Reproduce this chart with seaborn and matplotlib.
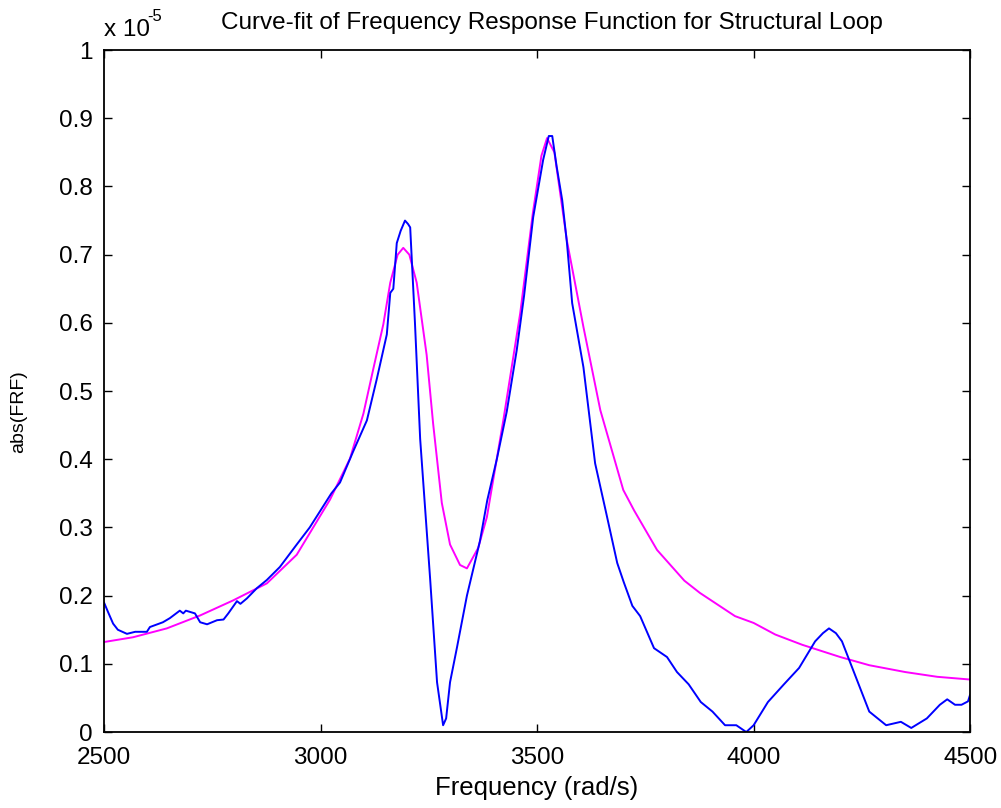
import matplotlib
matplotlib.use("Agg")
import matplotlib.pyplot as plt
import numpy as np
import seaborn as sns

# measured FRF magnitude (units of 1e-5)
freq_meas = [2500, 2510, 2521, 2532, 2553, 2572, 2599, 2606, 2636, 2652, 2675, 2683, 2689,
             2710, 2722, 2738, 2761, 2776, 2787, 2807, 2815, 2830, 2853, 2876, 2906, 2945,
             2975, 3006, 3025, 3045, 3075, 3107, 3130, 3153, 3161, 3168, 3176, 3185, 3195,
             3202, 3207, 3218, 3230, 3253, 3269, 3283, 3290, 3299, 3315, 3338, 3368, 3385,
             3407, 3430, 3453, 3470, 3491, 3514, 3527, 3535, 3545, 3558, 3569, 3581, 3607,
             3634, 3660, 3685, 3700, 3720, 3738, 3770, 3800, 3823, 3850, 3878, 3905, 3934,
             3960, 3983, 4000, 4033, 4070, 4105, 4142, 4160, 4174, 4190, 4204, 4237, 4267,
             4306, 4340, 4364, 4400, 4430, 4447, 4465, 4480, 4495, 4500]
mag_meas = [0.19, 0.175, 0.159, 0.15, 0.144, 0.147, 0.147, 0.154, 0.161, 0.167, 0.178, 0.174, 0.178,
            0.174, 0.161, 0.158, 0.164, 0.165, 0.174, 0.192, 0.188, 0.196, 0.211, 0.223, 0.242, 0.275,
            0.30, 0.331, 0.35, 0.366, 0.411, 0.457, 0.518, 0.583, 0.644, 0.65, 0.717, 0.735, 0.75,
            0.745, 0.74, 0.6, 0.43, 0.225, 0.073, 0.01, 0.02, 0.073, 0.124, 0.2, 0.28, 0.34,
            0.40, 0.47, 0.56, 0.64, 0.755, 0.839, 0.874, 0.874, 0.83, 0.78, 0.717, 0.629, 0.535,
            0.394, 0.32, 0.248, 0.22, 0.185, 0.17, 0.123, 0.11, 0.088, 0.07, 0.044, 0.03, 0.01,
            0.01, 0.0, 0.01, 0.044, 0.07, 0.094, 0.133, 0.145, 0.152, 0.145, 0.133, 0.079, 0.03,
            0.01, 0.015, 0.006, 0.02, 0.04, 0.048, 0.04, 0.04, 0.045, 0.055]

# curve-fit
freq_fit = [2500, 2567, 2645, 2722, 2798, 2876, 2945, 3022, 3068, 3099, 3122, 3145, 3161, 3178,
            3191, 3205, 3222, 3245, 3260, 3280, 3299, 3322, 3338, 3364, 3384, 3422, 3461, 3490,
            3510, 3523, 3540, 3569, 3607, 3646, 3699, 3724, 3777, 3840, 3876, 3957, 4000, 4050,
            4112, 4200, 4267, 4350, 4424, 4500]
mag_fit = [0.132, 0.139, 0.152, 0.171, 0.193, 0.218, 0.26, 0.341, 0.401, 0.467, 0.533, 0.598, 0.659, 0.70,
           0.71, 0.70, 0.659, 0.553, 0.452, 0.336, 0.275, 0.245, 0.24, 0.27, 0.315, 0.457, 0.614, 0.76,
           0.845, 0.871, 0.85, 0.72, 0.594, 0.472, 0.355, 0.325, 0.267, 0.222, 0.204, 0.170, 0.16, 0.143,
           0.128, 0.11, 0.098, 0.088, 0.081, 0.077]

sns.set_style("ticks")
plt.rcParams['font.family'] = ['Liberation Sans', 'DejaVu Sans']
plt.rcParams['text.color'] = 'black'
plt.rcParams['axes.labelcolor'] = 'black'

fig = plt.figure(figsize=(10.01, 8.08), dpi=100)
ax = fig.add_axes([0.1039, 0.094, 0.8653, 0.844])

sns.lineplot(x=freq_fit, y=mag_fit, ax=ax, color=(1, 0, 1), linewidth=1.4, sort=False)
sns.lineplot(x=freq_meas, y=mag_meas, ax=ax, color=(0, 0, 1), linewidth=1.4, sort=False)

ax.set_xlim(2500, 4500)
ax.set_ylim(0, 1)
ax.set_xticks([2500, 3000, 3500, 4000, 4500])
ax.set_yticks(np.arange(0, 1.01, 0.1))
ax.set_yticklabels(["0", "0.1", "0.2", "0.3", "0.4", "0.5", "0.6", "0.7", "0.8", "0.9", "1"])
ax.tick_params(direction='in', length=6, width=1, labelsize=17.5, top=True, right=True,
               colors='black')
ax.tick_params(axis='x', pad=11)
ax.tick_params(axis='y', pad=8)
for s in ax.spines.values():
    s.set_linewidth(1.3)
    s.set_color('black')
    s.set_visible(True)

ax.set_xlabel("Frequency (rad/s)", fontsize=18.5, labelpad=5)
fig.text(0.019, 0.49, "abs(FRF)", rotation=90, fontsize=14, ha='center', va='center')
fig.text(0.104, 0.963, "x 10", fontsize=17.5, ha='left', va='center')
fig.text(0.147, 0.979, "-5", fontsize=12, ha='left', va='center')
fig.text(0.551, 0.972, "Curve-fit of Frequency Response Function for Structural Loop",
         fontsize=17.5, ha='center', va='center')

fig.savefig("out.png", dpi=100)
